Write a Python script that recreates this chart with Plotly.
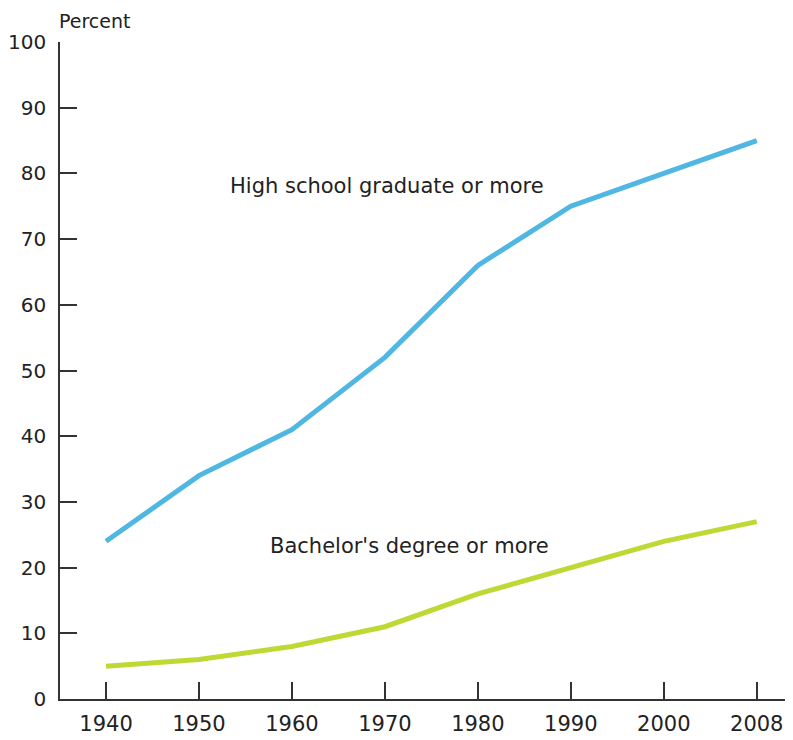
import plotly.graph_objects as go

years = ["1940", "1950", "1960", "1970", "1980", "1990", "2000", "2008"]
high_school = [24, 34, 41, 52, 66, 75, 80, 85]
bachelor = [5, 6, 8, 11, 16, 20, 24, 27]
y_ticks = [0, 10, 20, 30, 40, 50, 60, 70, 80, 90, 100]

FONT = "DejaVu Sans"
TXT = "#222222"

fig = go.Figure()
fig.add_trace(go.Scatter(x=years, y=high_school, mode="lines",
                         line=dict(color="#4fb7e1", width=5), showlegend=False))
fig.add_trace(go.Scatter(x=years, y=bachelor, mode="lines",
                         line=dict(color="#bfd833", width=5), showlegend=False))

fig.add_annotation(x=1.31, y=78.1, xref="x", yref="y", text="High school graduate or more",
                   showarrow=False, xanchor="left", yanchor="middle",
                   font=dict(family=FONT, size=21, color=TXT))
fig.add_annotation(x=1.74, y=23.3, xref="x", yref="y", text="Bachelor's degree or more",
                   showarrow=False, xanchor="left", yanchor="middle",
                   font=dict(family=FONT, size=21, color=TXT))
fig.add_annotation(x=0, y=1.0, xref="paper", yref="paper", text="Percent",
                   showarrow=False, xanchor="left", yanchor="bottom", yshift=8,
                   xshift=-3,
                   font=dict(family=FONT, size=19, color=TXT))

# page body has an 8px margin, so the figure is sized/offset to compensate
fig.update_layout(
    width=785, height=732,
    margin=dict(l=52, r=0, t=34, b=41, autoexpand=False),
    paper_bgcolor="white", plot_bgcolor="white",
    font=dict(family=FONT, size=21, color=TXT),
    xaxis=dict(type="category", range=[-0.495, 7.39], showgrid=False, zeroline=False,
               automargin=False,
               showline=True, linecolor="#333333", linewidth=1.5,
               ticks="inside", ticklen=17, tickcolor="#333333", tickwidth=1.5,
               ticklabelstandoff=5,
               tickfont=dict(family=FONT, size=21, color=TXT)),
    yaxis=dict(range=[0, 100], tickvals=y_ticks, showgrid=False, zeroline=False,
               automargin=False,
               showline=True, linecolor="#333333", linewidth=1.5,
               ticks="inside", ticklen=17, tickcolor="#333333", tickwidth=1.5,
               ticklabelstandoff=8,
               tickfont=dict(family=FONT, size=20, color=TXT)),
)

fig.write_html("out.html")
